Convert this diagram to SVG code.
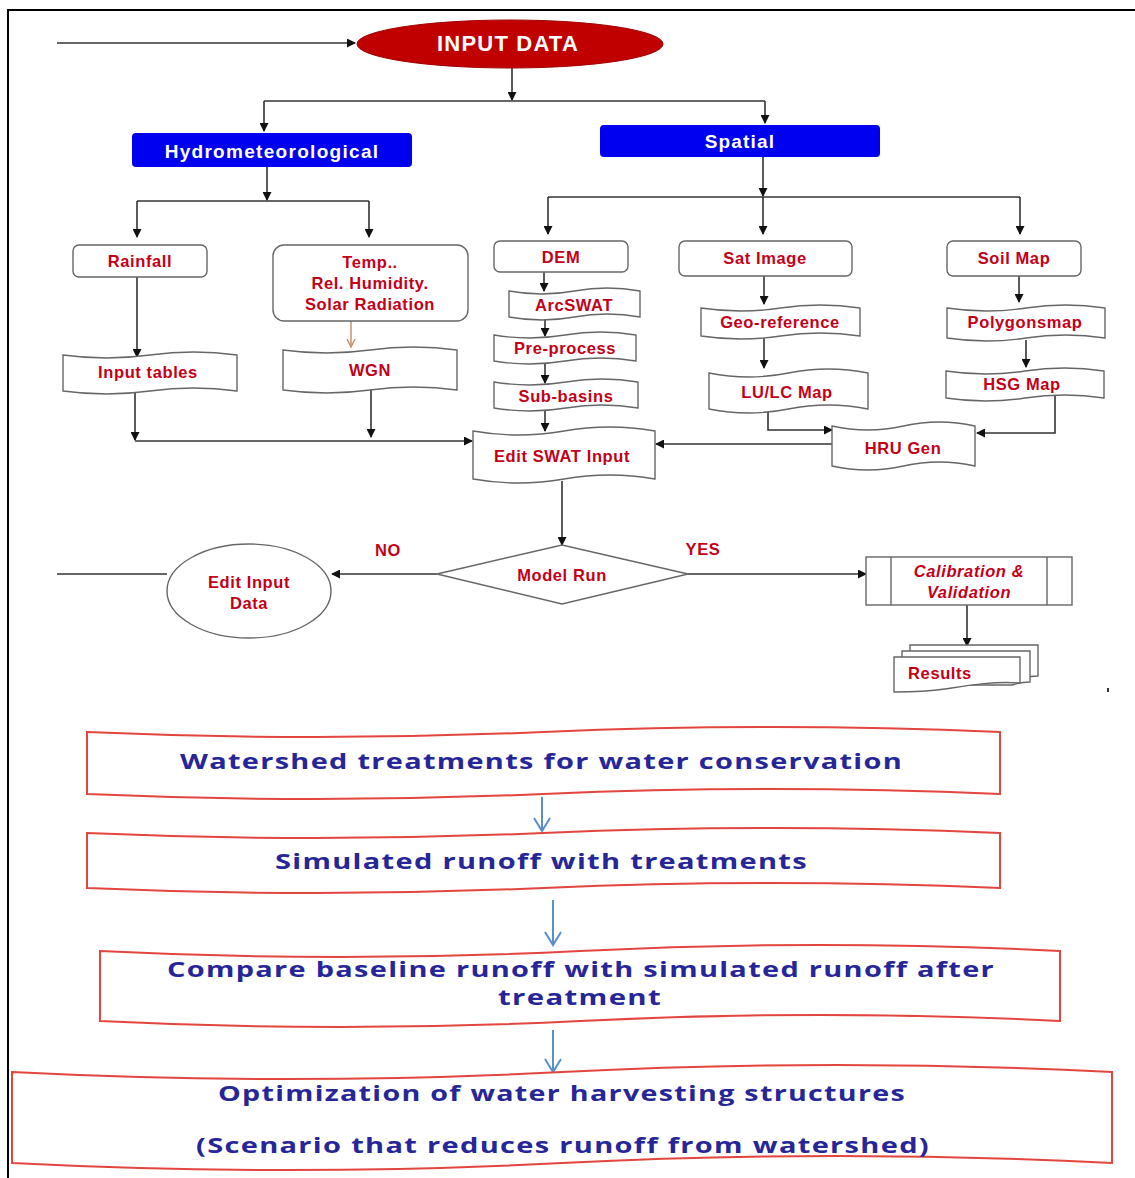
<svg xmlns="http://www.w3.org/2000/svg" width="1135" height="1178" viewBox="0 0 1135 1178">
<defs>
<marker id="ah" markerWidth="9" markerHeight="9" refX="8" refY="4.5" orient="auto" markerUnits="userSpaceOnUse"><path d="M0,0 L9,4.5 L0,9 z" fill="#111"/></marker>
<marker id="ahTan" markerWidth="10" markerHeight="10" refX="9" refY="5" orient="auto" markerUnits="userSpaceOnUse"><path d="M1,1 L9,5 L1,9" fill="none" stroke="#c8906c" stroke-width="1.5"/></marker>
<marker id="bv" markerWidth="18" markerHeight="18" refX="16" refY="9" orient="auto" markerUnits="userSpaceOnUse"><path d="M3,1 L16,9 L3,17" fill="none" stroke="#5b8fc9" stroke-width="2"/></marker>
<style>
.conn{fill:none;stroke:#333;stroke-width:1.6}
.blue{fill:none;stroke:#5b8fc9;stroke-width:2}
.node{fill:#fff;stroke:#666;stroke-width:1.4}
.big{fill:#fff;stroke:#e3453f;stroke-width:2}
.lbl{font-family:"Liberation Sans",Arial,sans-serif;font-weight:bold;font-size:16.5px;fill:#c40018;text-anchor:middle;letter-spacing:0.6px}
.wt{font-family:"Liberation Sans",Arial,sans-serif;font-weight:bold;fill:#fff;text-anchor:middle}
.bt{font-family:"Open Sans","Liberation Sans",sans-serif;font-weight:bold;font-size:22px;fill:#262699;text-anchor:middle;letter-spacing:1px}
</style>
</defs>
<rect width="1135" height="1178" fill="#fff"/>
<path d="M8,1178 V10 H1135" fill="none" stroke="#000" stroke-width="2"/>

<g id="connectors">
<path class="conn" d="M57,43 H355" marker-end="url(#ah)"/>
<path class="conn" d="M512,68 V100" marker-end="url(#ah)"/>
<path class="conn" d="M264,101 H765"/>
<path class="conn" d="M264,101 V131" marker-end="url(#ah)"/>
<path class="conn" d="M765,101 V123" marker-end="url(#ah)"/>
<path class="conn" d="M267,167 V200" marker-end="url(#ah)"/>
<path class="conn" d="M137,201 H369"/>
<path class="conn" d="M137,201 V237" marker-end="url(#ah)"/>
<path class="conn" d="M369,201 V237" marker-end="url(#ah)"/>
<path class="conn" d="M763,157 V196" marker-end="url(#ah)"/>
<path class="conn" d="M548,197 H1020"/>
<path class="conn" d="M548,197 V234" marker-end="url(#ah)"/>
<path class="conn" d="M763,197 V234" marker-end="url(#ah)"/>
<path class="conn" d="M1020,197 V234" marker-end="url(#ah)"/>
<path class="conn" d="M137,277 V357" marker-end="url(#ah)"/>
<path d="M351,321 V347" fill="none" stroke="#c8906c" stroke-width="1.5" marker-end="url(#ahTan)"/>
<path class="conn" d="M135,392 V440" marker-end="url(#ah)"/>
<path class="conn" d="M135,441 H472" marker-end="url(#ah)"/>
<path class="conn" d="M371,390 V437" marker-end="url(#ah)"/>
<path class="conn" d="M544,272 V291" marker-end="url(#ah)"/>
<path class="conn" d="M545,318 V336" marker-end="url(#ah)"/>
<path class="conn" d="M545,362 V383" marker-end="url(#ah)"/>
<path class="conn" d="M545,409 V431" marker-end="url(#ah)"/>
<path class="conn" d="M764,276 V304" marker-end="url(#ah)"/>
<path class="conn" d="M764,338 V368" marker-end="url(#ah)"/>
<path class="conn" d="M1019,276 V302" marker-end="url(#ah)"/>
<path class="conn" d="M1026,340 V367" marker-end="url(#ah)"/>
<path class="conn" d="M768,410 V430 H832" marker-end="url(#ah)"/>
<path class="conn" d="M1055,396 V433 H977" marker-end="url(#ah)"/>
<path class="conn" d="M832,444 H656" marker-end="url(#ah)"/>
<path class="conn" d="M562,481 V545" marker-end="url(#ah)"/>
<path class="conn" d="M437,574 H332" marker-end="url(#ah)"/>
<path class="conn" d="M167,574 H57"/>
<path class="conn" d="M688,574 H866" marker-end="url(#ah)"/>
<path class="conn" d="M967,605 V646" marker-end="url(#ah)"/>
<path class="blue" d="M542,797 V831" marker-end="url(#bv)"/>
<path class="blue" d="M553,900 V945" marker-end="url(#bv)"/>
<path class="blue" d="M553,1030 V1072" marker-end="url(#bv)"/>
</g>

<g id="input-data">
<ellipse cx="510" cy="44" rx="153" ry="24" fill="#c00000" stroke="#a00000" stroke-width="1"/>
<text class="wt" x="508" y="51" font-size="22" letter-spacing="1.2">INPUT DATA</text>
</g>
<g id="hydro">
<rect x="132" y="133" width="280" height="34" rx="4" fill="#0000f0"/>
<text class="wt" x="272" y="158" font-size="19" letter-spacing="1.3">Hydrometeorological</text>
</g>
<g id="spatial">
<rect x="600" y="125" width="280" height="32" rx="4" fill="#0000f0"/>
<text class="wt" x="740" y="148" font-size="19" letter-spacing="1.2">Spatial</text>
</g>

<g id="rainfall">
<rect class="node" x="73" y="245" width="134" height="32" rx="6"/>
<text class="lbl" x="140" y="267">Rainfall</text>
</g>
<g id="temp">
<rect class="node" x="273" y="245" width="195" height="76" rx="11"/>
<text class="lbl" x="370" y="268">Temp..</text>
<text class="lbl" x="370" y="289">Rel. Humidity.</text>
<text class="lbl" x="370" y="310">Solar Radiation</text>
</g>
<g id="input-tables">
<path class="node" d="M63,355 Q106.5,361 150,355 T237,355 L237,391 Q193.5,385 150,391 T63,391 Z"/>
<text class="lbl" x="148" y="378">Input tables</text>
</g>
<g id="wgn">
<path class="node" d="M283,350 Q326.5,356 370,350 T457,350 L457,390 Q413.5,384 370,390 T283,390 Z"/>
<text class="lbl" x="370" y="376">WGN</text>
</g>

<g id="dem">
<rect class="node" x="494" y="241" width="134" height="31" rx="6"/>
<text class="lbl" x="561" y="263">DEM</text>
</g>
<g id="arcswat">
<path class="node" d="M509,291 Q541.75,297 574.5,291 T640,291 L640,317 Q607.25,311 574.5,317 T509,317 Z"/>
<text class="lbl" x="574" y="311">ArcSWAT</text>
</g>
<g id="preprocess">
<path class="node" d="M494,335 Q529.5,341 565,335 T636,335 L636,361 Q600.5,355 565,361 T494,361 Z"/>
<text class="lbl" x="565" y="354">Pre-process</text>
</g>
<g id="subbasins">
<path class="node" d="M494,382 Q530,388 566,382 T638,382 L638,408 Q602,402 566,408 T494,408 Z"/>
<text class="lbl" x="566" y="402">Sub-basins</text>
</g>
<g id="edit-swat">
<path class="node" d="M473,431 Q518.5,439 564,431 T655,431 L655,479 Q609.5,471 564,479 T473,479 Z"/>
<text class="lbl" x="562" y="462">Edit SWAT Input</text>
</g>

<g id="sat-image">
<rect class="node" x="679" y="241" width="173" height="35" rx="6"/>
<text class="lbl" x="765" y="264">Sat Image</text>
</g>
<g id="georef">
<path class="node" d="M701,308 Q740.75,314 780.5,308 T860,308 L860,336 Q820.25,330 780.5,336 T701,336 Z"/>
<text class="lbl" x="780" y="328">Geo-reference</text>
</g>
<g id="lulc">
<path class="node" d="M709,373 Q748.75,381 788.5,373 T868,373 L868,409 Q828.25,401 788.5,409 T709,409 Z"/>
<text class="lbl" x="787" y="398">LU/LC Map</text>
</g>

<g id="soil-map">
<rect class="node" x="947" y="241" width="134" height="35" rx="6"/>
<text class="lbl" x="1014" y="264">Soil Map</text>
</g>
<g id="polygonsmap">
<path class="node" d="M947,308 Q986.5,314 1026,308 T1105,308 L1105,338 Q1065.5,332 1026,338 T947,338 Z"/>
<text class="lbl" x="1025" y="328">Polygonsmap</text>
</g>
<g id="hsg-map">
<path class="node" d="M946,371 Q985.5,377 1025,371 T1104,371 L1104,398 Q1064.5,392 1025,398 T946,398 Z"/>
<text class="lbl" x="1022" y="390">HSG Map</text>
</g>
<g id="hru-gen">
<path class="node" d="M832,426 Q867.75,434 903.5,426 T975,426 L975,466 Q939.25,458 903.5,466 T832,466 Z"/>
<text class="lbl" x="903" y="454">HRU Gen</text>
</g>

<g id="model-run">
<path class="node" d="M437,574 L562,545 L688,574 L562,604 Z"/>
<text class="lbl" x="562" y="581">Model Run</text>
</g>
<g id="labels">
<text class="lbl" x="388" y="556">NO</text>
<text class="lbl" x="703" y="555">YES</text>
</g>
<g id="edit-input-data">
<ellipse class="node" cx="249" cy="591" rx="82" ry="47"/>
<text class="lbl" x="249" y="588">Edit Input</text>
<text class="lbl" x="249" y="609">Data</text>
</g>
<g id="calibration">
<rect class="node" x="866" y="557" width="206" height="48"/>
<path class="node" d="M891,557 V605 M1047,557 V605"/>
<text class="lbl" x="969" y="577" font-style="italic">Calibration &amp;</text>
<text class="lbl" x="969" y="598" font-style="italic">Validation</text>
</g>
<g id="results">
<path class="node" d="M910,645 H1038 V676 C1030,676 1028,677 1026,678 L910,678 Z"/>
<path class="node" d="M902,651 H1030 V682 C1020,682 1016,684 1012,685 L902,685 Z"/>
<path class="node" d="M894,657 H1020 V683 C990,681 965,686 945,689 C925,692 905,692 894,692 Z"/>
<text class="lbl" x="940" y="679">Results</text>
</g>
<rect x="1107" y="688" width="2" height="4" fill="#333"/>

<g id="watershed-treatments">
<path class="big" d="M87,732 Q315.25,742 543.5,732 T1000,732 L1000,794 Q771.75,784 543.5,794 T87,794 Z"/>
<text class="bt" x="541.5" y="769" textLength="723" lengthAdjust="spacingAndGlyphs">Watershed treatments for water conservation</text>
</g>
<g id="simulated-runoff">
<path class="big" d="M87,833 Q315.25,843 543.5,833 T1000,833 L1000,888 Q771.75,878 543.5,888 T87,888 Z"/>
<text class="bt" x="541.5" y="869" textLength="533" lengthAdjust="spacingAndGlyphs">Simulated runoff with treatments</text>
</g>
<g id="compare-baseline">
<path class="big" d="M100,951 Q340,963 580,951 T1060,951 L1060,1021 Q820,1009 580,1021 T100,1021 Z"/>
<text class="bt" x="581" y="977" textLength="828" lengthAdjust="spacingAndGlyphs">Compare baseline runoff with simulated runoff after</text>
<text class="bt" x="580" y="1005" textLength="164" lengthAdjust="spacingAndGlyphs">treatment</text>
</g>
<g id="optimization">
<path class="big" d="M12,1072 Q287,1086 562,1072 T1112,1072 L1112,1163 Q837,1149 562,1163 T12,1163 Z"/>
<text class="bt" x="562" y="1101" textLength="688" lengthAdjust="spacingAndGlyphs">Optimization of water harvesting structures</text>
<text class="bt" x="563" y="1153" textLength="734" lengthAdjust="spacingAndGlyphs">(Scenario that reduces runoff from watershed)</text>
</g>
</svg>
